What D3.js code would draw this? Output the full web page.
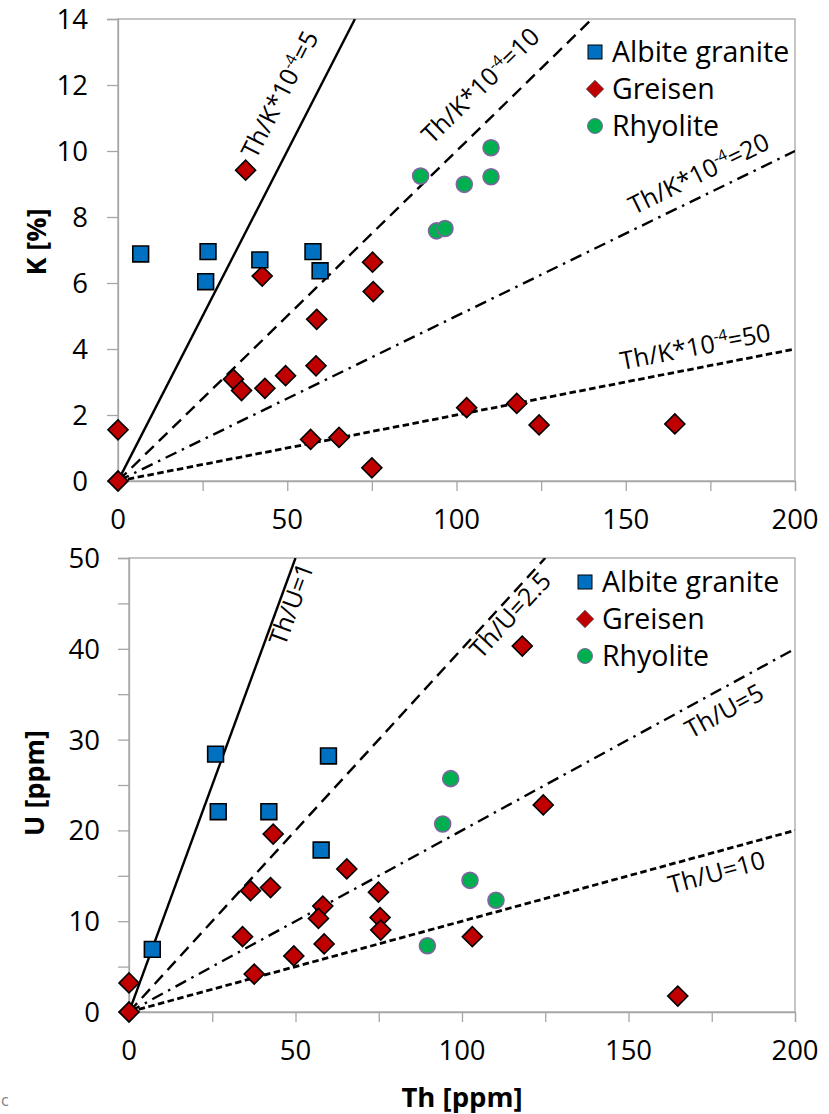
<!DOCTYPE html>
<html><head><meta charset="utf-8">
<script src="https://cdn.jsdelivr.net/npm/d3@7"></script>
<style>
html,body{margin:0;padding:0;background:#fff;}
svg{display:block;font-family:"Open Sans",sans-serif;}
</style></head>
<body>
<svg id="chart" width="829" height="1114"></svg>
<script>
// ---------- Data ----------
const seriesNames = ["Albite granite", "Greisen", "Rhyolite"];

// Top panel: Th [ppm] vs K [%]
const albiteTh_K = [6.7, 26.6, 25.9, 41.9, 57.6, 59.7];
const albiteK    = [6.88, 6.95, 6.04, 6.70, 6.95, 6.37];
const greisenTh_K = [0, 0, 37.7, 42.6, 34.1, 36.5, 43.4, 49.5, 58.5, 58.7, 75.2, 75.4, 56.9, 65.3, 75.0, 103.0, 117.8, 124.4, 164.5];
const greisenK    = [0, 1.55, 9.42, 6.21, 3.08, 2.74, 2.81, 3.19, 3.49, 4.90, 6.63, 5.74, 1.26, 1.32, 0.40, 2.22, 2.35, 1.70, 1.73];
const rhyoTh_K = [89.4, 110.2, 110.2, 102.3, 94.1, 96.6];
const rhyoK    = [9.24, 10.10, 9.22, 8.99, 7.58, 7.65];

// Bottom panel: Th [ppm] vs U [ppm]
const albiteTh_U = [7.0, 26.0, 59.9, 26.8, 42.0, 57.7];
const albiteU    = [6.9, 28.4, 28.2, 22.06, 22.06, 17.84];
const greisenTh_U = [0, 0, 43.3, 36.5, 42.5, 65.4, 74.9, 58.2, 56.9, 75.4, 75.6, 34.1, 58.6, 49.5, 37.6, 118.1, 124.4, 103.1, 164.8];
const greisenU    = [0, 3.2, 19.6, 13.36, 13.7, 15.75, 13.2, 11.67, 10.3, 10.4, 9.03, 8.3, 7.49, 6.17, 4.18, 40.3, 22.8, 8.3, 1.76];
const rhyoTh_U = [96.6, 94.2, 102.4, 110.2, 89.6];
const rhyoU    = [25.7, 20.7, 14.5, 12.3, 7.3];

// Reference ratio lines
const ratiosK = [5, 10, 20, 50];      // Th/K*10^-4
const ratiosU = [1, 2.5, 5, 10];      // Th/U

// Tick values
const xTickLabels = [0, 50, 100, 150, 200];
const xTickMarks = [0, 25, 50, 75, 100, 125, 150, 175, 200];
const kTicks = [0, 2, 4, 6, 8, 10, 12, 14];
const uTickLabels = [0, 10, 20, 30, 40, 50];
const uTickMarks = [0, 5, 10, 15, 20, 25, 30, 35, 40, 45, 50];

// ---------- Drawing ----------
const svg = d3.select("#chart");
const COL = {albite: "#0070C0", greisen: "#C00000", rhyo: "#00B050", rhyoStroke: "#8064A2", axis: "#A6A6A6"};
const lineStyles = [
  {dash: null, w: 2.4},
  {dash: "12,7", w: 2.4},
  {dash: "12,6,2.5,6", w: 2.4},
  {dash: "6.5,3.5", w: 2.8}
];

function zip(a, b) { return a.map((v, i) => [v, b[i]]); }

function drawPanel(cfg) {
  const x = d3.scaleLinear().domain([0, 200]).range([cfg.left, 795]);
  const y = d3.scaleLinear().domain([0, cfg.ymax]).range([cfg.bottom, cfg.top]);
  const g = svg.append("g");
  const clipId = "clip" + cfg.id;
  svg.append("clipPath").attr("id", clipId).append("rect")
    .attr("x", cfg.left).attr("y", cfg.top)
    .attr("width", 795 - cfg.left).attr("height", cfg.bottom - cfg.top);

  // frame
  g.append("rect").attr("x", cfg.left).attr("y", cfg.top)
    .attr("width", 795 - cfg.left).attr("height", cfg.bottom - cfg.top)
    .attr("fill", "none").attr("stroke", COL.axis).attr("stroke-width", 1.3);

  // axes
  const xAxis = d3.axisBottom(x).tickValues(cfg.xMarks).tickSize(10).tickFormat("");
  g.append("g").attr("transform", `translate(0,${cfg.bottom})`).call(xAxis)
    .call(s => { s.select(".domain").attr("stroke", COL.axis).attr("stroke-width", 1.3); s.selectAll(".tick line").attr("stroke", COL.axis).attr("stroke-width", 1.3); });
  g.append("g").selectAll("text").data(cfg.xLabels).join("text")
    .attr("x", d => x(d)).attr("y", cfg.bottom + 48)
    .attr("text-anchor", "middle").attr("font-size", 27.5).attr("fill", "#000")
    .text(d => d);

  const yAxis = d3.axisLeft(y).tickValues(cfg.yMarks).tickSize(11).tickFormat("");
  g.append("g").attr("transform", `translate(${cfg.left},0)`).call(yAxis)
    .call(s => { s.select(".domain").attr("stroke", COL.axis).attr("stroke-width", 1.3); s.selectAll(".tick line").attr("stroke", COL.axis).attr("stroke-width", 1.3); });
  g.append("g").selectAll("text").data(cfg.yLabels).join("text")
    .attr("x", cfg.yLabelX).attr("y", d => y(d)).attr("dy", "0.36em")
    .attr("text-anchor", "end").attr("font-size", 27.5).attr("fill", "#000")
    .text(d => d);

  // y title
  g.append("text").attr("transform", `translate(${cfg.ytitleX},${cfg.ytitleY}) rotate(-90)`)
    .attr("text-anchor", "middle").attr("dy", "0.36em")
    .attr("font-size", 27).attr("font-weight", "bold").text(cfg.ytitle);

  // ratio lines
  const lg = g.append("g").attr("clip-path", `url(#${clipId})`);
  cfg.ratios.forEach((r, i) => {
    const xEnd = Math.min(200, cfg.ymax * r);
    const pts = [[0, 0], [xEnd, xEnd / r]];
    lg.append("path").attr("d", d3.line().x(d => x(d[0])).y(d => y(d[1]))(pts))
      .attr("fill", "none").attr("stroke", "#000")
      .attr("stroke-width", lineStyles[i].w)
      .attr("stroke-dasharray", lineStyles[i].dash);
  });

  // line labels
  cfg.lineLabels.forEach((L, i) => {
    const r = cfg.ratios[i];
    const ang = -Math.atan((y(0) - y(100 / r)) / (x(100) - x(0))) * 180 / Math.PI;
    const t = g.append("text")
      .attr("transform", `translate(${L.x},${L.y}) rotate(${ang})`)
      .attr("font-size", cfg.labelSize).attr("fill", "#000");
    L.parts.forEach(p => {
      if (p.sup) {
        t.append("tspan").attr("font-size", cfg.labelSize * 0.62).attr("dy", -cfg.labelSize * 0.38).text(p.t);
      } else if (p.after) {
        t.append("tspan").attr("dy", cfg.labelSize * 0.38).text(p.t);
      } else {
        t.append("tspan").text(p.t);
      }
    });
  });

  // points
  const pg = g.append("g");
  const sq = d3.symbol().type(d3.symbolSquare).size(cfg.sqSize);
  const dm = d3.symbol().type(d3.symbolSquare).size(cfg.dmSize);
  pg.selectAll(".gr").data(zip(cfg.grTh, cfg.grV)).join("path")
    .attr("d", dm).attr("transform", d => `translate(${x(d[0])},${y(d[1])}) rotate(45)`)
    .attr("fill", COL.greisen).attr("stroke", "#000").attr("stroke-width", 1.6);
  pg.selectAll(".ab").data(zip(cfg.abTh, cfg.abV)).join("path")
    .attr("d", sq).attr("transform", d => `translate(${x(d[0])},${y(d[1])})`)
    .attr("fill", COL.albite).attr("stroke", "#000").attr("stroke-width", 1.6);
  pg.selectAll(".rh").data(zip(cfg.rhTh, cfg.rhV)).join("circle")
    .attr("cx", d => x(d[0])).attr("cy", d => y(d[1])).attr("r", 8)
    .attr("fill", COL.rhyo).attr("stroke", COL.rhyoStroke).attr("stroke-width", 1.6);

  // legend
  const leg = g.append("g");
  seriesNames.forEach((name, i) => {
    const cy = cfg.legY + i * 37;
    const mx = cfg.legX;
    if (i === 0) leg.append("rect").attr("x", mx - 7).attr("y", cy - 7).attr("width", 14).attr("height", 14)
      .attr("fill", COL.albite).attr("stroke", "#000").attr("stroke-width", 1);
    if (i === 1) leg.append("path").attr("d", d3.symbol().type(d3.symbolSquare).size(150)())
      .attr("transform", `translate(${mx},${cy}) rotate(45)`)
      .attr("fill", COL.greisen).attr("stroke", "#444").attr("stroke-width", 0.8);
    if (i === 2) leg.append("circle").attr("cx", mx).attr("cy", cy).attr("r", 7.5)
      .attr("fill", COL.rhyo).attr("stroke", COL.rhyoStroke).attr("stroke-width", 1);
    leg.append("text").attr("x", mx + 17).attr("y", cy).attr("dy", "0.36em")
      .attr("font-size", 28.5).attr("fill", "#000").text(name);
  });
}

const sup = [{t: "Th/K*10"}, {t: "-4", sup: true}];
drawPanel({
  id: "K", left: 118, top: 19, bottom: 481, ymax: 14,
  xMarks: xTickMarks, xLabels: xTickLabels,
  yMarks: kTicks, yLabels: kTicks, yLabelX: 88,
  ytitle: "K [%]", ytitleX: 36, ytitleY: 242,
  ratios: ratiosK, labelSize: 25,
  lineLabels: [
    {x: 256, y: 160, parts: [...sup, {t: "=5", after: true}]},
    {x: 432, y: 145, parts: [...sup, {t: "=10", after: true}]},
    {x: 634, y: 215, parts: [...sup, {t: "=20", after: true}]},
    {x: 622, y: 370, parts: [...sup, {t: "=50", after: true}]}
  ],
  grTh: greisenTh_K, grV: greisenK,
  abTh: albiteTh_K, abV: albiteK,
  rhTh: rhyoTh_K, rhV: rhyoK,
  sqSize: 250, dmSize: 200,
  legX: 595, legY: 52
});

drawPanel({
  id: "U", left: 129, top: 558, bottom: 1012, ymax: 50,
  xMarks: xTickMarks, xLabels: xTickLabels,
  yMarks: uTickMarks, yLabels: uTickLabels, yLabelX: 100,
  ytitle: "U [ppm]", ytitleX: 34, ytitleY: 783,
  ratios: ratiosU, labelSize: 25,
  lineLabels: [
    {x: 285, y: 647, parts: [{t: "Th/U=1"}]},
    {x: 481, y: 660, parts: [{t: "Th/U=2.5"}]},
    {x: 691, y: 739, parts: [{t: "Th/U=5"}]},
    {x: 671, y: 894, parts: [{t: "Th/U=10"}]}
  ],
  grTh: greisenTh_U, grV: greisenU,
  abTh: albiteTh_U, abV: albiteU,
  rhTh: rhyoTh_U, rhV: rhyoU,
  sqSize: 250, dmSize: 200,
  legX: 585, legY: 582
});

svg.append("text").attr("x", 462).attr("y", 1097).attr("dy", "0.36em")
  .attr("text-anchor", "middle").attr("font-size", 27.5).attr("font-weight", "bold").text("Th [ppm]");
svg.append("text").attr("x", 1).attr("y", 1106)
  .attr("font-size", 16).attr("fill", "#808080").text("c");
</script>
</body></html>
